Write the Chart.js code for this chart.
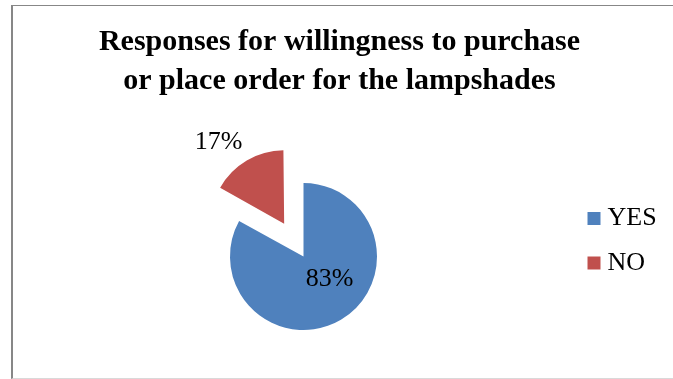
<!DOCTYPE html>
<html>
<head>
<meta charset="utf-8">
<title>Lampshade purchase responses</title>
<script src="https://cdn.jsdelivr.net/npm/chart.js@4/dist/chart.umd.min.js"></script>
<style>
  html, body { margin: 0; padding: 0; background: #fff; overflow: hidden; }
  #frame {
    position: absolute; left: 11px; top: 5px; width: 660px; height: 372px;
    border-left: 2px solid #878787; border-top: 1px solid #878787; border-bottom: 1px solid #d9d9d9;
  }
  #pieChart { position: absolute; left: 0; top: 0; }
</style>
</head>
<body>
<div id="frame"></div>
<canvas id="pieChart" width="673" height="379"></canvas>
<script>
// survey answers, in percent
const answers = ["YES", "NO"];
const shares = [83, 17];
const titleLines = ["Responses for willingness to purchase", "or place order for the lampshades"];

const sliceColors = ["#4F81BD", "#C0504D"];
const sliceOffset = [0, 152];      // chart.js moves an arc by offset / 4
const labelTurn = [-18.5, -8.3];   // degrees away from the slice bisector
const labelDist = [0.468, 1.423];  // share of the radius

const serif = '"Liberation Serif", "Times New Roman", serif';

const pieTweaks = {
  id: "pieTweaks",
  // legend box stays narrow for the layout, but its text may run past it
  afterLayout(chart) {
    chart.legend.right += 12;
    chart.legend.width += 12;
  },
  // an exploded arc gets drawn slightly larger; keep all slices one size
  afterDatasetsUpdate(chart) {
    chart.getDatasetMeta(0).data.forEach(arc => {
      const shift = (arc.options.offset || 0) / 4;
      const fix = 1 - Math.sin(Math.min(Math.PI, arc.circumference));
      arc.outerRadius -= shift * fix;
    });
  },
  // writes "83%" etc. next to each slice
  afterDatasetsDraw(chart) {
    const ctx = chart.ctx;
    const meta = chart.getDatasetMeta(0);
    const radius = meta.controller.outerRadius;
    ctx.save();
    ctx.font = "26px " + serif;
    ctx.fillStyle = "#000";
    ctx.textAlign = "center";
    ctx.textBaseline = "middle";
    meta.data.forEach((arc, i) => {
      const p = arc.getProps(["x", "y", "startAngle", "endAngle"]);
      const mid = (p.startAngle + p.endAngle) / 2;
      const shift = (arc.options.offset || 0) / 4;
      const a = mid + labelTurn[i] * Math.PI / 180;
      const r = radius * labelDist[i];
      const cx = p.x + Math.cos(mid) * shift;
      const cy = p.y + Math.sin(mid) * shift;
      ctx.fillText(shares[i] + "%", cx + Math.cos(a) * r, cy + Math.sin(a) * r);
    });
    ctx.restore();
  }
};

new Chart(document.getElementById("pieChart"), {
  type: "pie",
  data: {
    labels: answers,
    datasets: [{
      data: shares,
      backgroundColor: sliceColors,
      borderWidth: 0,
      offset: sliceOffset
    }]
  },
  options: {
    responsive: false,
    animation: false,
    events: [],
    radius: 73.5,
    layout: { padding: { left: 32, right: 26, top: 0, bottom: 16 } },
    plugins: {
      title: {
        display: true,
        text: titleLines,
        color: "#000",
        font: { family: serif, size: 30, weight: "bold", lineHeight: 1.3 },
        padding: { top: 23, bottom: 49 }
      },
      legend: {
        position: "right",
        align: "start",
        fullSize: false,
        maxWidth: 72,
        // empty title only pushes the entries down
        title: { display: true, text: "", font: { size: 10, lineHeight: 1 }, padding: { top: 27, bottom: 0 } },
        labels: {
          color: "#000",
          font: { family: serif, size: 26 },
          usePointStyle: true,
          pointStyle: "rect",
          boxWidth: 1,
          boxHeight: 13,
          padding: 18.5
        }
      },
      tooltip: { enabled: false }
    }
  },
  plugins: [pieTweaks]
});
</script>
</body>
</html>
